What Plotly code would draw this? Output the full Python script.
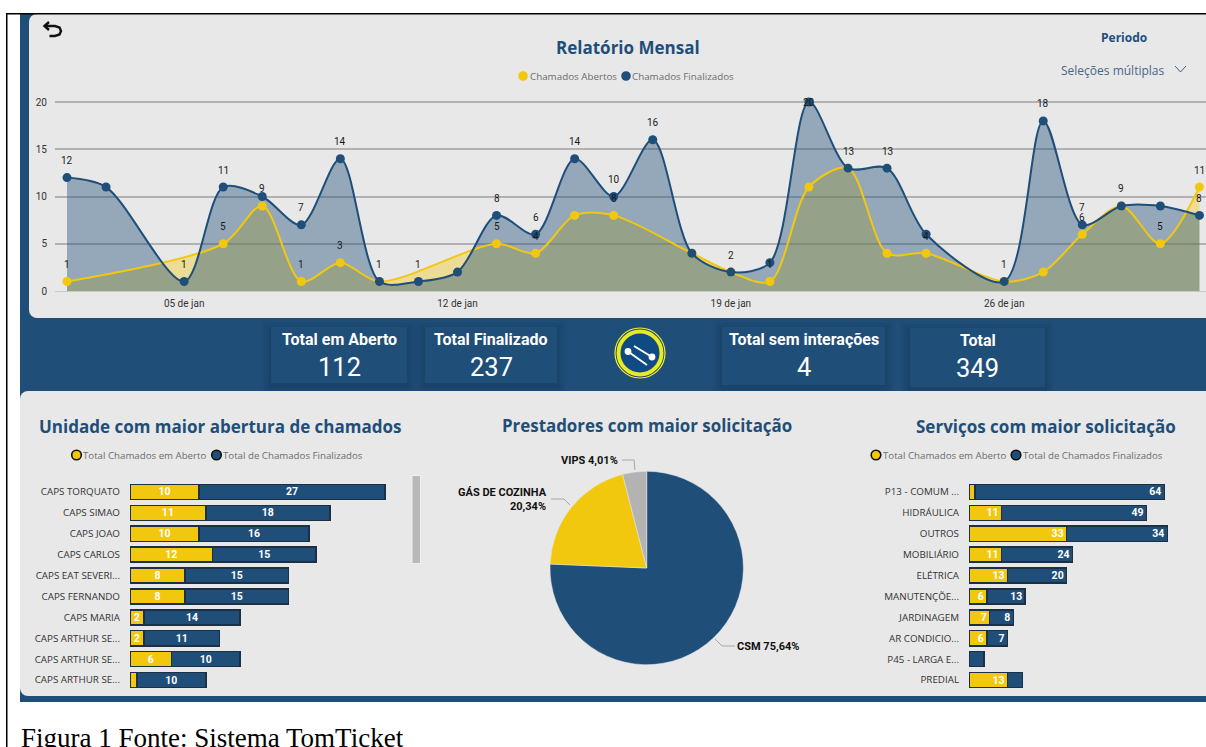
import plotly.graph_objects as go
from datetime import datetime, timedelta

W, H = 1206, 747
BLUE = "#1f4e79"
YELLOW = "#f2c80f"
PANEL = "#e8e8e8"
GREY = "#b3b3b3"

# ---------- data ----------
dias = ["2025-01-%02d" % d for d in range(2, 32)]
abertos = [1, None, None, None, 5, 9, 1, 3, 1, None, None, 5, 4, 8, 8, None, 4, 2, 1, 11, 13, 4, 4, None, 1, 2, 6, 9, 5, 11]
finalizados = [12, 11, None, 1, 11, 10, 7, 14, 1, 1, 2, 8, 6, 14, 10, 16, 4, 2, 3, 20, 13, 13, 6, None, 1, 18, 7, 9, 9, 8]
rotulos_abertos = [1, None, None, None, 5, 9, 1, 3, None, None, None, 5, 4, None, 8, None, None, None, 1, None, None, None, 4, None, None, None, 6, None, 5, 11]
rotulos_finalizados = [12, None, None, 1, 11, None, 7, 14, 1, 1, None, 8, 6, 14, 10, 16, None, 2, None, 20, 13, 13, None, None, 1, 18, 7, 9, None, 8]
eixo_x_datas = ["2025-01-05", "2025-01-12", "2025-01-19", "2025-01-26"]
eixo_x_rotulos = ["05 de jan", "12 de jan", "19 de jan", "26 de jan"]

unidades = ["CAPS TORQUATO", "CAPS SIMAO", "CAPS JOAO", "CAPS CARLOS", "CAPS EAT SEVERI...", "CAPS FERNANDO",
            "CAPS MARIA", "CAPS ARTHUR SE...", "CAPS ARTHUR SE...", "CAPS ARTHUR SE..."]
unid_abertos = [10, 11, 10, 12, 8, 8, 2, 2, 6, 1]
unid_finalizados = [27, 18, 16, 15, 15, 15, 14, 11, 10, 10]
unid_txt_abertos = ["10", "11", "10", "12", "8", "8", "2", "2", "6", ""]

servicos = ["P13 - COMUM ...", "HIDRÁULICA", "OUTROS", "MOBILIÁRIO", "ELÉTRICA", "MANUTENÇÕE...",
            "JARDINAGEM", "AR CONDICIO...", "P45 - LARGA E...", "PREDIAL"]
serv_abertos = [2, 11, 33, 11, 13, 6, 7, 6, 0, 13]
serv_finalizados = [64, 49, 34, 24, 20, 13, 8, 7, 5, 5]
serv_txt_abertos = ["", "11", "33", "11", "13", "6", "7", "6", "", "13"]
serv_txt_finalizados = ["64", "49", "34", "24", "20", "13", "8", "7", "", ""]

prestadores = ["CSM", "GÁS DE COZINHA", "VIPS"]
prestadores_pct = [75.64, 20.34, 4.01]

kpis = [("Total em Aberto", "112"), ("Total Finalizado", "237"), ("Total sem interações", "4"), ("Total", "349")]

# ---------- pixel helpers ----------
px = lambda x: x / W
py = lambda y: 1 - y / H
dom_x = lambda a, b: [px(a), px(b)]
dom_y = lambda top, bot: [py(bot), py(top)]


def rect(x0, y0, x1, y1, color, **kw):
    return dict(type="rect", xref="paper", yref="paper", x0=px(x0), x1=px(x1), y0=py(y0), y1=py(y1),
                fillcolor=color, line=dict(width=0), layer="below", **kw)


def circle(cx, cy, r, color, line_color=None, lw=0, layer="above"):
    return dict(type="circle", xref="paper", yref="paper", x0=px(cx - r), x1=px(cx + r), y0=py(cy + r), y1=py(cy - r),
                fillcolor=color, line=dict(width=lw, color=line_color or color), layer=layer)


def path(points, color, lw, layer="above"):
    d = "M " + " L ".join(f"{px(x):.5f} {py(y):.5f}" for x, y in points)
    return dict(type="path", xref="paper", yref="paper", path=d, line=dict(color=color, width=lw), layer=layer)


def label(x, y, text, size, color="#000", family="Roboto", anchor="center", bold=False):
    return dict(xref="paper", yref="paper", x=px(x), y=py(y), text=f"<b>{text}</b>" if bold else text, showarrow=False,
                xanchor=anchor, yanchor="middle", align="right" if anchor == "right" else "center",
                font=dict(size=size, color=color, family=family), borderpad=0, borderwidth=0)


shapes, ann = [], []

# ---------- backgrounds ----------
shapes.append(rect(20, 14, W, 702, BLUE))
r = 8
shapes.append(rect(29 + r, 14, W, 318, PANEL))
shapes.append(rect(29, 14 + r, 29 + r, 318 - r, PANEL))
shapes.append(circle(29 + r, 14 + r, r, PANEL, layer="below"))
shapes.append(circle(29 + r, 318 - r, r, PANEL, layer="below"))
shapes.append(rect(20 + r, 391, W, 696, PANEL))
shapes.append(rect(20, 391 + r, 20 + r, 696 - r, PANEL))
shapes.append(circle(20 + r, 391 + r, r, PANEL, layer="below"))
shapes.append(circle(20 + r, 696 - r, r, PANEL, layer="below"))
shapes.append(rect(6, 13, W, 14.5, "#000000"))
shapes.append(rect(6, 13, 7.5, H, "#000000"))

# ---------- KPI cards ----------
cards = [(271, 327, 407, 383), (425, 327, 557, 383), (722, 327, 885, 385), (910, 328, 1045, 387)]
for (x0, y0, x1, y1), (t, v) in zip(cards, kpis):
    for g, a in ((10, .05), (7, .07), (4, .09), (2, .10)):
        shapes.append(rect(x0 - g, y0 - g + 3, x1 + g, min(y1 + g + 3, 390.5), f"rgba(20,45,75,{a})"))
    shapes.append(rect(x0, y0, x1, y1, BLUE))
    cx = (x0 + x1) / 2
    ann.append(label(cx, y0 + 12, t, 16, "#ffffff", "Roboto", bold=True))
    ann.append(label(cx, y0 + 40, v, 25.5, "#ffffff", "Roboto"))

# ---------- logo ----------
shapes.append(circle(640, 353, 25, "#1c4a75", "#f2ee2a", 1.2))
shapes.append(circle(640, 353, 21.5, "#0f4a82", "#eaea20", 4))
shapes.append(path([(628, 351.5), (647, 365)], "#ffffff", 2))
shapes.append(path([(634, 346), (652, 357)], "#ffffff", 2))
shapes.append(circle(628, 351.5, 3.4, "#ffffff"))
shapes.append(circle(652, 357, 3.4, "#ffffff"))

# ---------- back arrow, slicer ----------
shapes.append(path([(49, 22), (44.5, 26), (49, 30)], "#111111", 2.4))
shapes.append(path([(45, 26), (55, 26), (59.5, 27.5), (61, 31), (59.5, 34.5), (55, 36), (49.5, 36)], "#111111", 2.4))
shapes.append(path([(1175, 66), (1180.5, 72), (1186, 66)], "#35608a", 1))
ann.append(label(1124, 38, "Periodo", 12, BLUE, "Open Sans", bold=True))
ann.append(label(1061, 71, "Seleções múltiplas", 12, "#47678a", "Open Sans", anchor="left"))

# ---------- titles ----------
ann.append(label(628, 47, "Relatório Mensal", 17, BLUE, "Open Sans", bold=True))
ann.append(label(220, 426, "Unidade com maior abertura de chamados", 17, BLUE, "Open Sans", bold=True))
ann.append(label(647, 425, "Prestadores com maior solicitação", 16.9, BLUE, "Open Sans", bold=True))
ann.append(label(1045.5, 426, "Serviços com maior solicitação", 17, BLUE, "Open Sans", bold=True))

# ---------- legends ----------
LEG = "#6d6d6d"
shapes.append(circle(523, 76, 4.8, YELLOW))
ann.append(label(529.5, 76.5, "Chamados Abertos", 9.8, LEG, "Open Sans", anchor="left"))
shapes.append(circle(626, 76, 4.8, BLUE))
ann.append(label(632, 76.5, "Chamados Finalizados", 9.8, LEG, "Open Sans", anchor="left"))
for ya, ta, yb, tb in ((76.5, 83, 216.5, 223), (876, 883, 1016, 1023)):
    shapes.append(circle(ya, 455, 4.8, YELLOW, "#111111", 1.6))
    ann.append(label(ta, 455.5, "Total Chamados em Aberto", 9.7, LEG, "Open Sans", anchor="left"))
    shapes.append(circle(yb, 455, 4.8, BLUE, "#111111", 1.6))
    ann.append(label(tb, 455.5, "Total de Chamados Finalizados", 9.7, LEG, "Open Sans", anchor="left"))

# ---------- scrollbar ----------
shapes.append(rect(411.5, 475, 421, 564, "#f0f0f0"))
shapes.append(rect(412.5, 476, 420, 563, "#b9b9b9"))

# ---------- caption ----------
ann.append(label(21, 738, "Figura 1 Fonte: Sistema TomTicket", 27, "#000000", "Liberation Serif", anchor="left"))

# ---------- line chart ----------
fig = go.Figure()
t0 = datetime(2025, 1, 2)
day_px = 39.05
x_range = [t0 - timedelta(days=12 / day_px), t0 + timedelta(days=(W - 67) / day_px)]
series = (("Chamados Abertos", abertos, YELLOW, "rgba(242,200,15,0.38)"),
          ("Chamados Finalizados", finalizados, BLUE, "rgba(31,78,121,0.42)"))
SM = 0.85
for nome, vals, cor, fill in series:
    fig.add_trace(go.Scatter(x=dias, y=vals, name=nome, mode="lines", connectgaps=True, hoverinfo="skip",
                             line=dict(color=cor, width=0, shape="spline", smoothing=SM),
                             fill="tozeroy", fillcolor=fill, xaxis="x", yaxis="y", showlegend=False))
for nome, vals, cor, fill in series:
    fig.add_trace(go.Scatter(x=dias, y=vals, name=nome, mode="lines+markers", connectgaps=True,
                             line=dict(color=cor, width=2, shape="spline", smoothing=SM),
                             marker=dict(color=cor, size=9), xaxis="x", yaxis="y", showlegend=False, cliponaxis=False))
for d, v in list(zip(dias, rotulos_abertos)) + list(zip(dias, rotulos_finalizados)):
    if v is None:
        continue
    clamped = v >= 20
    ann.append(dict(xref="x", yref="y", x=d, y=v, text=str(v), showarrow=False, yshift=0 if clamped else 17,
                    xanchor="center", yanchor="middle", font=dict(size=10, color="#1a1a1a", family="Roboto")))

# ---------- stacked bars ----------
def bars(xa, ya, nomes, ab, fi, txt_a, txt_f, anchor):
    idx = list(range(len(nomes)))
    edge = dict(color="#1c3045", width=1.5)
    for vals, nome, cor, txt in ((ab, "Total Chamados em Aberto", YELLOW, txt_a),
                                 (fi, "Total de Chamados Finalizados", BLUE, txt_f)):
        fig.add_trace(go.Bar(y=idx, x=vals, orientation="h", name=nome, xaxis=xa, yaxis=ya,
                             marker=dict(color=cor, line=edge), text=txt, textposition="inside",
                             insidetextanchor=anchor, textangle=0, constraintext="none",
                             textfont=dict(color="#ffffff", size=10.5, family="Roboto", weight="bold"), showlegend=False))


bars("x2", "y2", unidades, unid_abertos, unid_finalizados, unid_txt_abertos, [str(v) for v in unid_finalizados], "middle")
bars("x3", "y3", servicos, serv_abertos, serv_finalizados, serv_txt_abertos, serv_txt_finalizados, "end")

# ---------- pie ----------
cx, cy, R = 646.7, 568, 96.7
fig.add_trace(go.Pie(labels=prestadores, values=prestadores_pct, sort=False, direction="clockwise", rotation=0,
                     marker=dict(colors=[BLUE, YELLOW, GREY], line=dict(color=PANEL, width=0.5)),
                     textinfo="none", showlegend=False, automargin=False,
                     domain=dict(x=dom_x(cx - R, cx + R), y=dom_y(cy - R, cy + R))))
LEAD = "#a8a8a8"
shapes.append(path([(622, 460), (634, 460), (635, 470)], LEAD, 1))
shapes.append(path([(551, 499), (564, 499), (570, 505)], LEAD, 1))
shapes.append(path([(715, 639), (722, 646), (735, 646)], LEAD, 1))
fmt = lambda v: f"{v:.2f}".replace(".", ",") + "%"
ann.append(label(618, 460, f"{prestadores[2]} {fmt(prestadores_pct[2])}", 11, "#111111", "Roboto", anchor="right", bold=True))
ann.append(label(547, 499, f"{prestadores[1]}<br>{fmt(prestadores_pct[1])}", 11, "#111111", "Roboto", anchor="right", bold=True))
ann.append(label(737, 646, f"{prestadores[0]} {fmt(prestadores_pct[0])}", 11, "#111111", "Roboto", anchor="left", bold=True))

# ---------- layout ----------
hidden_x = dict(showgrid=False, zeroline=False, showticklabels=False, showline=False, ticks="", automargin=False)
cat_y = dict(autorange=False, range=[9.5, -0.5], showgrid=False, zeroline=False, showline=False, tickmode="array",
             tickvals=list(range(10)), ticks="", ticklabelstandoff=9, automargin=False,
             tickfont=dict(size=9.8, color="#333333", family="Open Sans"))
y_top = 291 - 189 * 21 / 20
fig.update_layout(
    template="none",
    width=W, height=H, margin=dict(l=0, r=0, t=0, b=0, pad=0, autoexpand=False), autosize=False,
    paper_bgcolor="#ffffff", plot_bgcolor="rgba(0,0,0,0)",
    barmode="stack", bargap=0.28, shapes=shapes, annotations=ann,
    xaxis=dict(domain=dom_x(55, W), range=x_range, type="date", tickmode="array", tickvals=eixo_x_datas,
               ticktext=eixo_x_rotulos, showgrid=False, zeroline=False, showline=True, linecolor="#c8c8c8",
               linewidth=1, ticks="", automargin=False,
               tickfont=dict(size=10, color="#333333", family="Roboto"), ticklabelstandoff=3),
    yaxis=dict(domain=dom_y(y_top, 291), range=[0, 21], tickvals=[0, 5, 10, 15, 20], showgrid=True,
               gridcolor="#b2b2b2", gridwidth=1.5, zeroline=False, ticks="", ticklabelstandoff=7, automargin=False,
               tickfont=dict(size=10, color="#333333", family="Roboto")),
    xaxis2=dict(hidden_x, domain=dom_x(130, 410), range=[0, 280 / 6.89], anchor="y2"),
    yaxis2=dict(cat_y, domain=dom_y(481.5, 690.5), anchor="x2", ticktext=unidades),
    xaxis3=dict(hidden_x, domain=dom_x(969, 1200), range=[0, 231 / 2.96], anchor="y3"),
    yaxis3=dict(cat_y, domain=dom_y(481.5, 690.5), anchor="x3", ticktext=servicos),
)
fig.write_html("out.html", config=dict(displayModeBar=False),
               post_script="document.body.style.margin='0';document.body.style.overflow='hidden';")
